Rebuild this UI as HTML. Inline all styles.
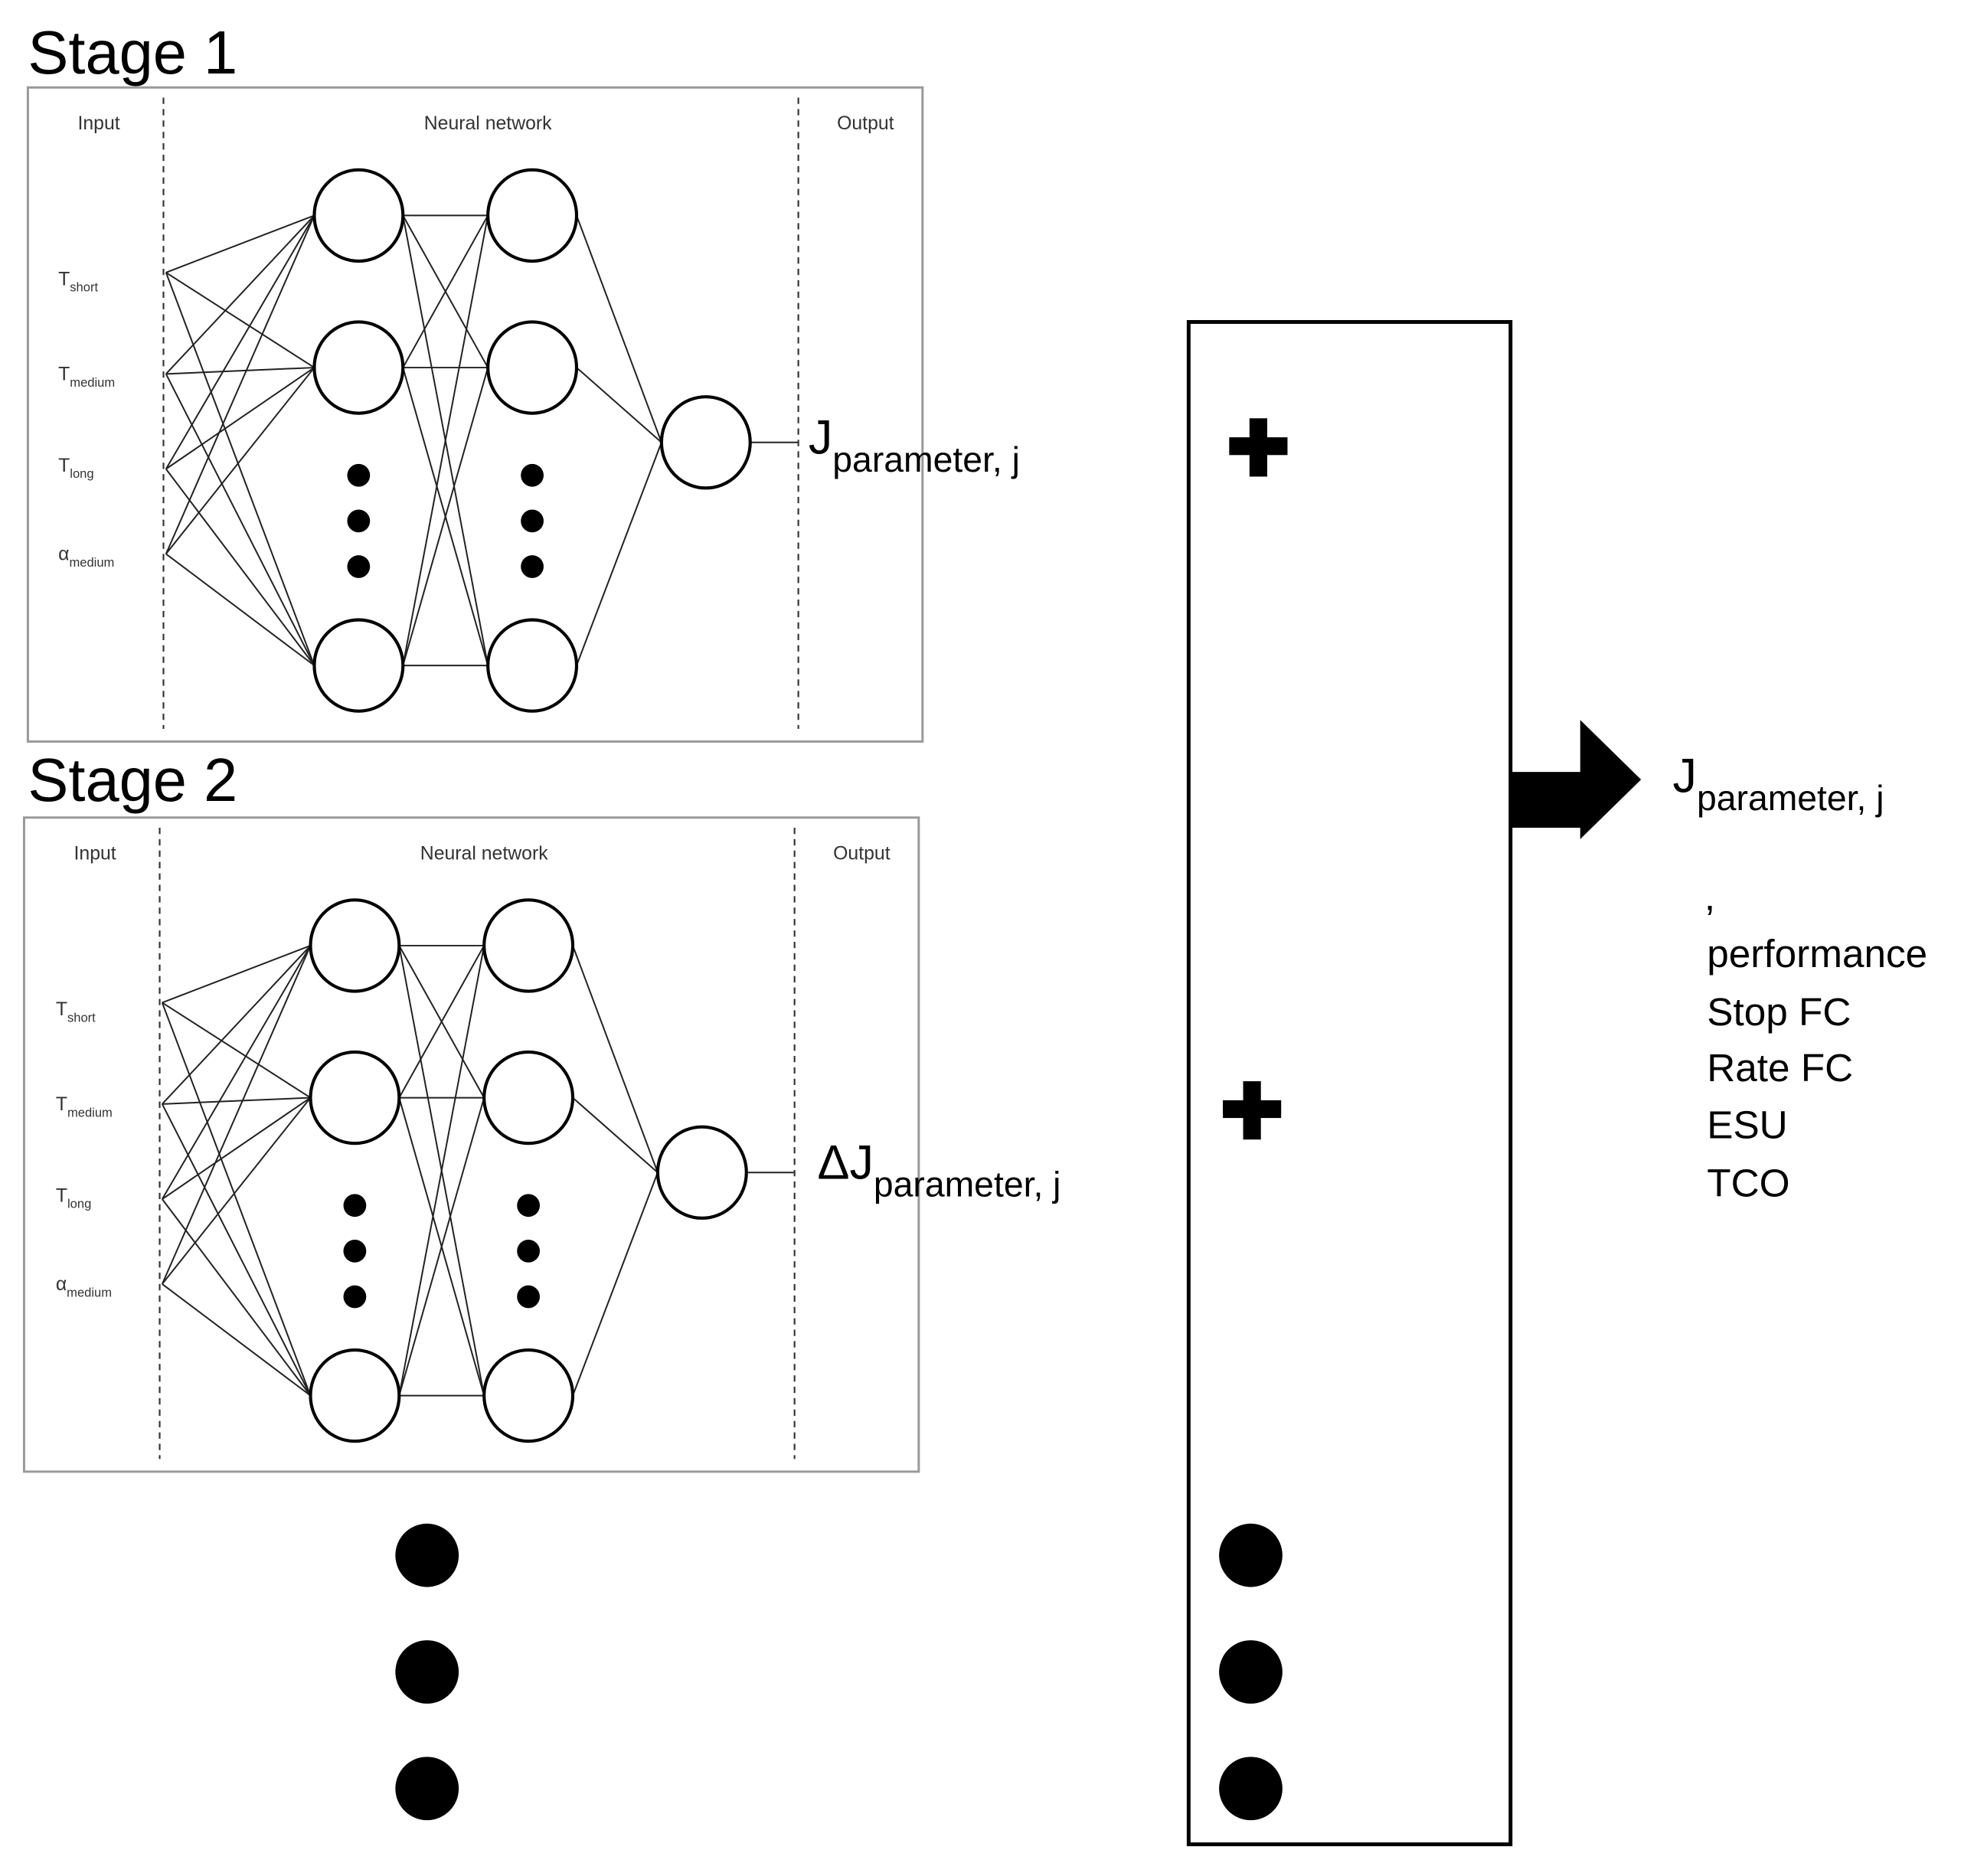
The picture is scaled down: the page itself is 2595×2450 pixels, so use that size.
<!DOCTYPE html>
<html><head><meta charset="utf-8"><style>
html,body{margin:0;padding:0;background:#fff;}
svg{display:block;}
text{font-family:"Liberation Sans",sans-serif;fill:#000;}
</style></head><body>
<svg width="2595" height="2450" viewBox="0 0 1568 1480" preserveAspectRatio="none" xmlns="http://www.w3.org/2000/svg">
<defs>
<g id="net">
 <g stroke="#222" stroke-width="1.2" fill="none">
  <line x1="131" y1="215" x2="248" y2="170"/><line x1="131" y1="215" x2="248" y2="290"/><line x1="131" y1="215" x2="248" y2="525"/>
  <line x1="131" y1="295" x2="248" y2="170"/><line x1="131" y1="295" x2="248" y2="290"/><line x1="131" y1="295" x2="248" y2="525"/>
  <line x1="131" y1="370" x2="248" y2="170"/><line x1="131" y1="370" x2="248" y2="290"/><line x1="131" y1="370" x2="248" y2="525"/>
  <line x1="131" y1="437" x2="248" y2="170"/><line x1="131" y1="437" x2="248" y2="290"/><line x1="131" y1="437" x2="248" y2="525"/>
  <line x1="318" y1="170" x2="385" y2="170"/><line x1="318" y1="170" x2="385" y2="290"/><line x1="318" y1="170" x2="385" y2="525"/>
  <line x1="318" y1="290" x2="385" y2="170"/><line x1="318" y1="290" x2="385" y2="290"/><line x1="318" y1="290" x2="385" y2="525"/>
  <line x1="318" y1="525" x2="385" y2="170"/><line x1="318" y1="525" x2="385" y2="290"/><line x1="318" y1="525" x2="385" y2="525"/>
  <line x1="455" y1="170" x2="522" y2="349"/><line x1="455" y1="290" x2="522" y2="349"/><line x1="455" y1="525" x2="522" y2="349"/>
  <line x1="592" y1="349" x2="630" y2="349"/>
 </g>
 <g stroke="#000" stroke-width="2.5" fill="#fff">
  <ellipse cx="283" cy="170" rx="35" ry="36"/><ellipse cx="283" cy="290" rx="35" ry="36"/><ellipse cx="283" cy="525" rx="35" ry="36"/>
  <ellipse cx="420" cy="170" rx="35" ry="36"/><ellipse cx="420" cy="290" rx="35" ry="36"/><ellipse cx="420" cy="525" rx="35" ry="36"/>
  <ellipse cx="557" cy="349" rx="35" ry="36"/>
 </g>
 <g fill="#000">
  <circle cx="283" cy="375" r="9"/><circle cx="283" cy="411" r="9"/><circle cx="283" cy="447" r="9"/>
  <circle cx="420" cy="375" r="9"/><circle cx="420" cy="411" r="9"/><circle cx="420" cy="447" r="9"/>
 </g>
 <rect x="22" y="69" width="706" height="516" fill="none" stroke="#999" stroke-width="1.8"/>
 <g stroke="#333" stroke-width="1.3" stroke-dasharray="5,4">
  <line x1="129" y1="77" x2="129" y2="575"/><line x1="630" y1="77" x2="630" y2="575"/>
 </g>
</g>
</defs>

<!-- Stage 1 -->
<text x="22" y="58" font-size="48">Stage 1</text>
<use href="#net"/>
<g font-size="15" fill="#333">
 <text x="78" y="102" text-anchor="middle" style="fill:#333">Input</text>
 <text x="385" y="102" text-anchor="middle" style="fill:#333">Neural network</text>
 <text x="683" y="102" text-anchor="middle" style="fill:#333">Output</text>
</g>
<g font-size="15" style="fill:#333">
 <text x="46" y="225" style="fill:#333">T<tspan font-size="10" dy="5">short</tspan></text>
 <text x="46" y="300" style="fill:#333">T<tspan font-size="10" dy="5">medium</tspan></text>
 <text x="46" y="372" style="fill:#333">T<tspan font-size="10" dy="5">long</tspan></text>
 <text x="46" y="442" style="fill:#333">α<tspan font-size="10" dy="5">medium</tspan></text>
</g>
<text x="638" y="358" font-size="38">J<tspan font-size="28" dy="14">parameter, j</tspan></text>

<!-- Stage 2 -->
<text x="22" y="632" font-size="48">Stage 2</text>
<use href="#net" transform="translate(-3,576)"/>
<g font-size="15">
 <text x="75" y="678" text-anchor="middle" style="fill:#333">Input</text>
 <text x="382" y="678" text-anchor="middle" style="fill:#333">Neural network</text>
 <text x="680" y="678" text-anchor="middle" style="fill:#333">Output</text>
</g>
<g font-size="15">
 <text x="44" y="801" style="fill:#333">T<tspan font-size="10" dy="5">short</tspan></text>
 <text x="44" y="876" style="fill:#333">T<tspan font-size="10" dy="5">medium</tspan></text>
 <text x="44" y="948" style="fill:#333">T<tspan font-size="10" dy="5">long</tspan></text>
 <text x="44" y="1018" style="fill:#333">α<tspan font-size="10" dy="5">medium</tspan></text>
</g>
<text x="645" y="930" font-size="38">ΔJ<tspan font-size="28" dy="14">parameter, j</tspan></text>

<!-- big dots left -->
<g fill="#000">
 <circle cx="337" cy="1227" r="25"/><circle cx="337" cy="1319" r="25"/><circle cx="337" cy="1411" r="25"/>
 <circle cx="987" cy="1227" r="25"/><circle cx="987" cy="1319" r="25"/><circle cx="987" cy="1411" r="25"/>
</g>

<!-- right box -->
<rect x="938" y="254" width="254" height="1201" fill="none" stroke="#000" stroke-width="3"/>
<g fill="#000">
 <rect x="986" y="330" width="14" height="46"/><rect x="970" y="345" width="46" height="14"/>
 <rect x="981" y="853" width="14" height="46"/><rect x="965" y="868" width="46" height="14"/>
</g>
<polygon points="1192,609 1247,609 1247,568 1295,615 1247,662 1247,653 1192,653" fill="#000"/>
<text x="1320" y="625" font-size="38">J<tspan font-size="28" dy="14">parameter, j</tspan></text>
<g font-size="31">
 <text x="1345" y="718">,</text>
 <text x="1347" y="763">performance</text>
 <text x="1347" y="809">Stop FC</text>
 <text x="1347" y="853">Rate FC</text>
 <text x="1347" y="898">ESU</text>
 <text x="1347" y="944">TCO</text>
</g>
</svg>
</body></html>
